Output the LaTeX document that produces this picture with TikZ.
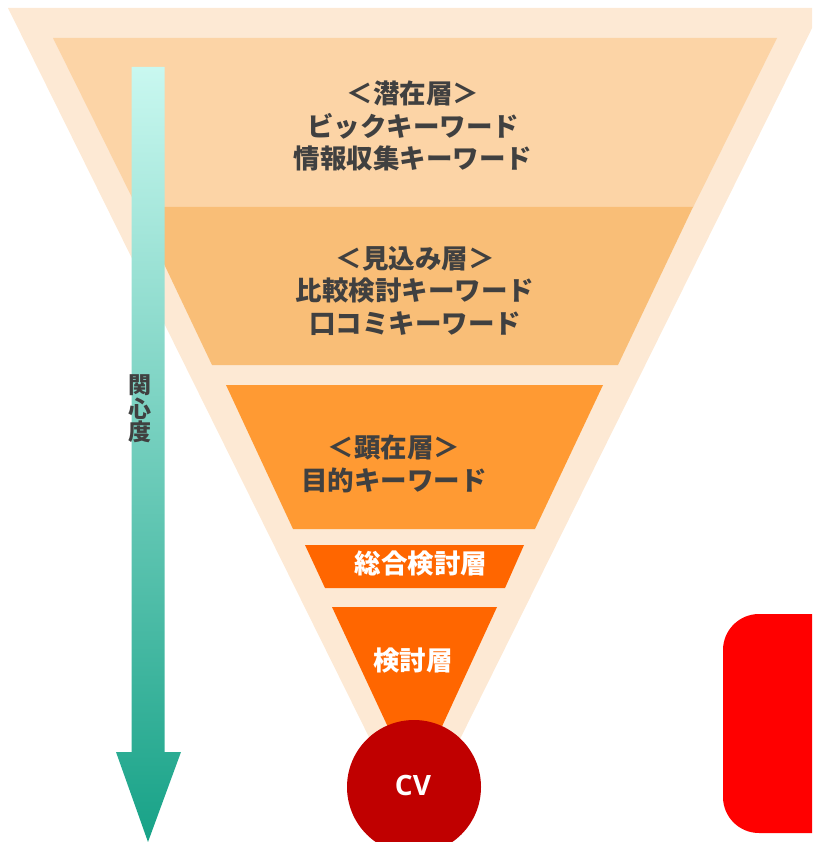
\documentclass[tikz,border=0pt]{standalone}
\usepackage{fontspec}
\newfontfamily\jp{Noto Sans CJK JP}
\newfontfamily\lat{Open Sans}
\definecolor{cream}{HTML}{FDE9D4}
\definecolor{layA}{HTML}{FCD4A6}
\definecolor{layB}{HTML}{F9BE77}
\definecolor{layC}{HTML}{FF9A33}
\definecolor{layD}{HTML}{FF6600}
\definecolor{cvred}{HTML}{C00000}
\definecolor{txtgray}{HTML}{404040}
\definecolor{boxred}{HTML}{FF0000}
\definecolor{arrtop}{HTML}{C9F8F0}
\definecolor{arrbot}{HTML}{17A287}
\tikzset{
  darktext/.style={text=txtgray, align=center, font=\jp\bfseries\fontsize{26.5}{32.5}\selectfont, inner sep=0pt},
  whitetext/.style={text=white, align=center, font=\jp\bfseries\fontsize{26.5}{30}\selectfont, inner sep=0pt},
}
\begin{document}
\begin{tikzpicture}[x=1pt,y=-1pt]
\useasboundingbox (0,0) rectangle (812,842);
\clip (0,0) rectangle (812,842);
% outer cream funnel
\fill[cream] (8,8) -- (822,8) -- (415,830) -- cycle;
% layers
\fill[layA] (53,38) -- (777,38) -- (693,207.5) -- (137,207.5) -- cycle;
\fill[layB] (137,207) -- (693,207) -- (618,365) -- (212,365) -- cycle;
\fill[layC] (226,385) -- (603,385) -- (535,529) -- (293,529) -- cycle;
\fill[layD] (305,545) -- (524,545) -- (505,588) -- (325,588) -- cycle;
\fill[layD] (332,607) -- (497,607) -- (415,785) -- cycle;
% CV circle
\node[circle, fill=cvred, minimum size=134pt, inner sep=0pt] (cv) at (414,787) {};
\node[text=white, font=\lat\bfseries\fontsize{28}{30}\selectfont, inner sep=0pt] (cvt) at (413,785) {CV};
% arrow
\shade[top color=arrtop, bottom color=arrbot]
  (131.5,67) -- (164.5,67) -- (164.5,752) -- (181,752) -- (148,842) -- (116,752) -- (131.5,752) -- cycle;
\node[text=txtgray, align=center, font=\jp\bfseries\fontsize{23}{23.5}\selectfont, inner sep=0pt] (interest) at (140,409) {関\\心\\度};
% texts
\node[darktext] (t1) at (413,126) {＜潜在層＞\\ビックキーワード\\情報収集キーワード};
\node[darktext] (t2) at (415,291) {＜見込み層＞\\比較検討キーワード\\口コミキーワード};
\node[darktext] (t3) at (394,464) {＜顕在層＞\\目的キーワード};
\node[whitetext] (t4) at (421,563) {総合検討層};
\node[whitetext] (t5) at (413,661) {検討層};
% red box
\fill[boxred, rounded corners=36pt] (723,614) rectangle (880,833);
\end{tikzpicture}
\end{document}
